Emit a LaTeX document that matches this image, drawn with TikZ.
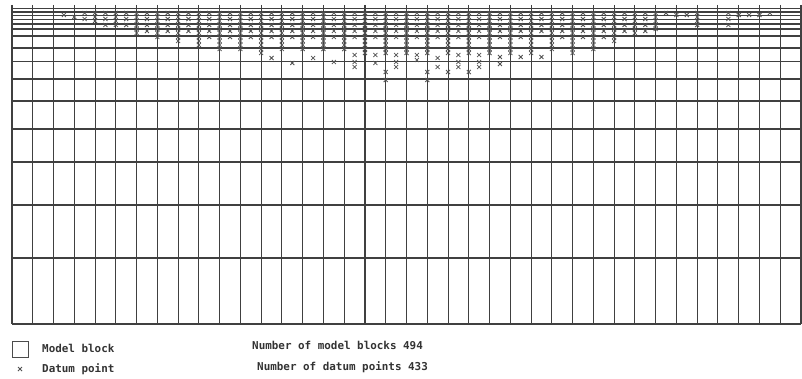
\documentclass[tikz,border=0pt]{standalone}
\usepackage{fontspec}
\setmonofont{DejaVu Sans Mono}
\begin{document}
\begin{tikzpicture}[x=1pt,y=-1pt,
  grid/.style={draw=black!75,line width=1.05pt},
  datum/.style={draw=black!68,line width=0.8pt},
  lbl/.style={font=\ttfamily\bfseries\fontsize{10.9}{12}\selectfont,text=black!80,anchor=west,inner sep=0pt},
  xm/.pic={\draw[datum] (-2,-2)--(2,2) (-2,2)--(2,-2);}]
\useasboundingbox[fill=white] (0,0) rectangle (802,379);
% model grid
\foreach \i in {0,...,38} \draw[grid] ({12+20.763*\i},5) -- ({12+20.763*\i},324);
\foreach \y in {8.5,12,15.5,19.5,24,29,36,48,61.5,79,101,129,162,205,258,324}
  \draw[grid] (12,\y) -- (801,\y);
% datum points: dense stacks on block edges
\foreach \k/\b in {8/23,10/25,12/33,14/38,16/43,18/45,20/50,22/50,24/55,26/52,28/52,30/52,32/50,34/55,36/55,38/55,40/55,42/55,44/55,46/55,48/55,50/53,52/52,54/53,56/50,58/43,60/33,62/30,66/27}
  \foreach \y in {13,17,...,\b} \pic at ({12+10.3815*\k},\y) {xm};
% datum points: stacks at block centres
\foreach \k/\b in {7/23,9/25,11/25,13/33,15/33,17/33,19/38,21/38,23/38,25/38,27/38,29/38,31/38,33/38,35/38,37/38,39/38,41/38,43/38,45/38,47/38,49/38,51/32,53/37,55/38,57/37,59/32,61/33,69/25}
  \foreach \y in {13,19,...,\b} \pic at ({12+10.3815*\k},\y) {xm};
% isolated datum points
\foreach \k/\y in {5/15,6/17,64/15,70/15,72/15,63/13,65/15,71/15,73/13,
  36/72,36/80,40/72,40/80,42/72,44/72,
  25/58,27/63,29/58,31/62,33/55,33/62,33/67,35/55,35/63,37/55,37/62,37/67,
  39/55,39/60,41/58,41/67,43/55,43/62,43/67,45/55,45/62,45/67,47/57,47/64,
  49/57,51/57}
  \pic at ({12+10.3815*\k},\y) {xm};
% legend
\node[draw=black!70,line width=0.9pt,minimum size=16pt,inner sep=0pt] (legbox) at (20,349) {};
\node[lbl] (legblock) at (42,348) {Model block};
\pic at (20,369) {xm};
\node[lbl] (legdatum) at (42,369) {Datum point};
\node[lbl] (nblocks) at (252,345) {Number of model blocks 494};
\node[lbl] (npoints) at (257,367) {Number of datum points 433};
\end{tikzpicture}
\end{document}
